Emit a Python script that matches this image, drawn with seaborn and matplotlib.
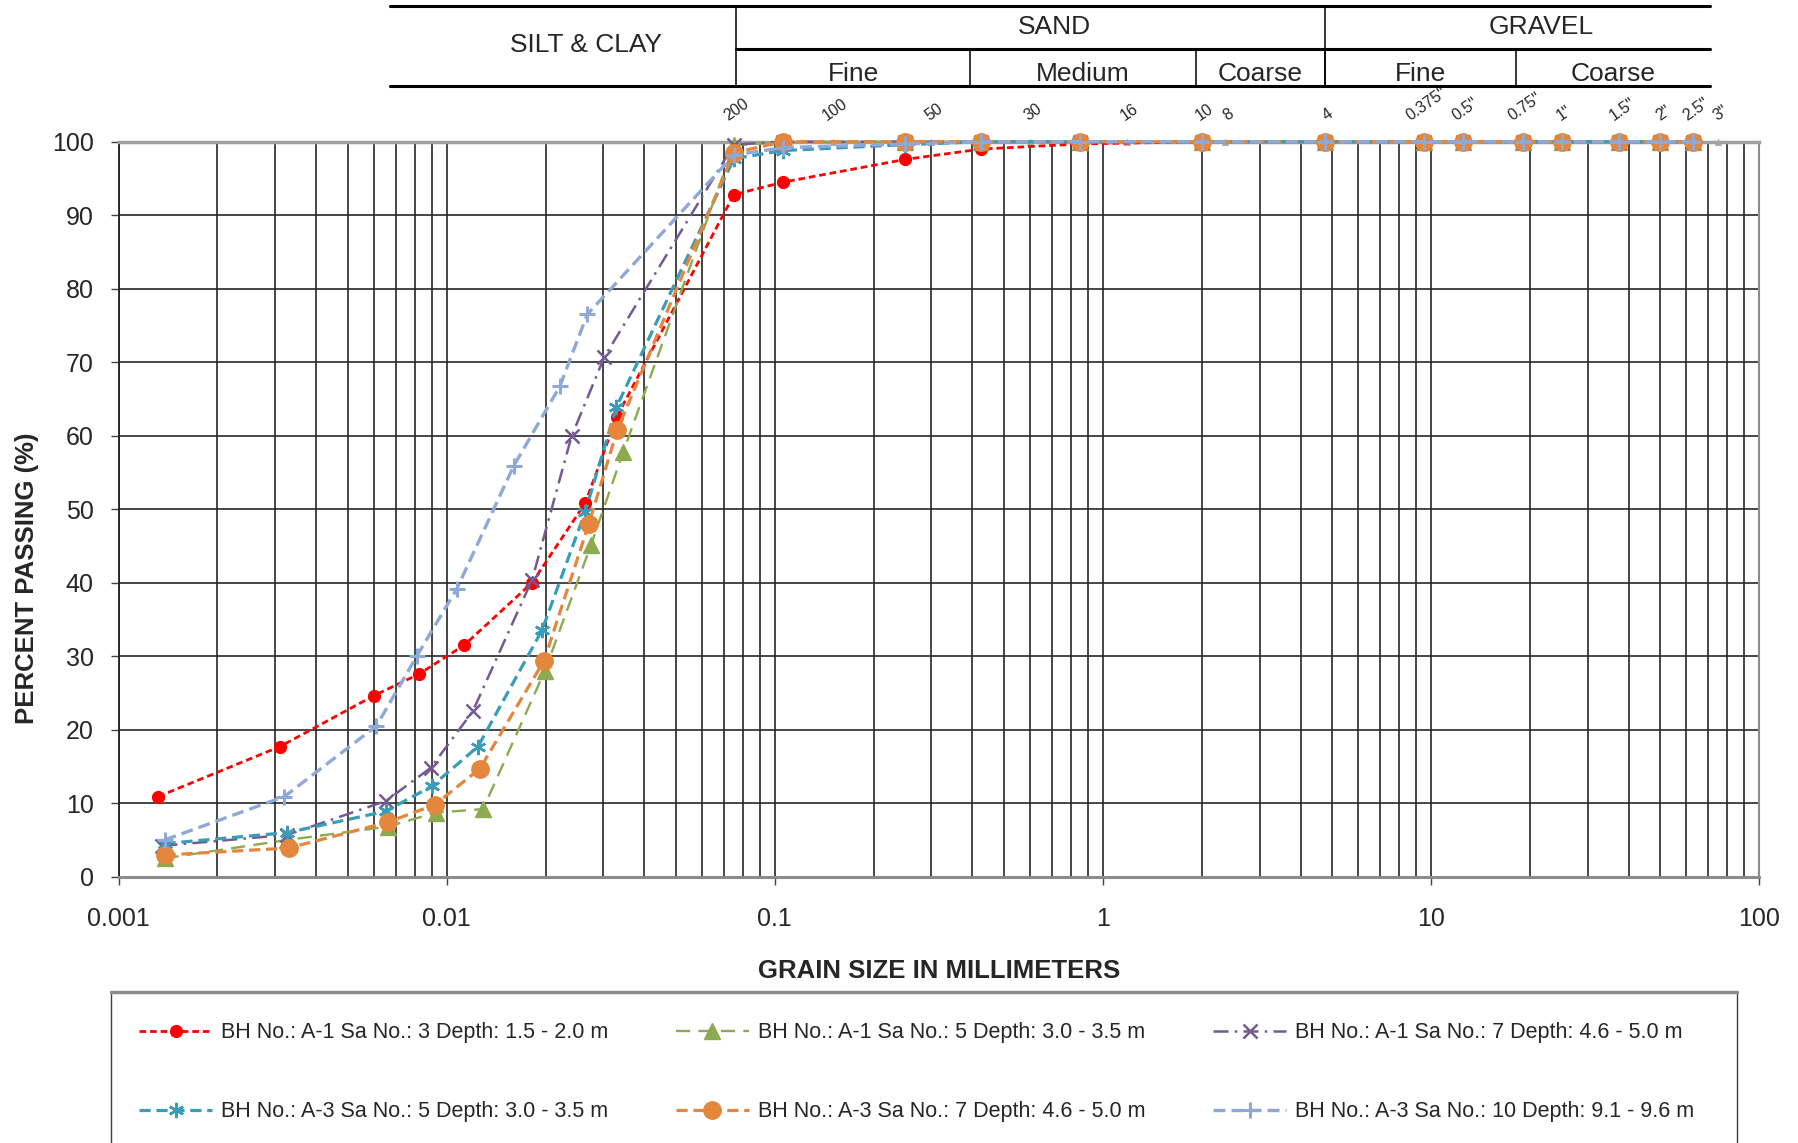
"""
Grain size distribution chart (sieve + hydrometer) for six samples.
"""

import matplotlib
matplotlib.use("Agg")
import matplotlib.pyplot as plt
import matplotlib.transforms as mtransforms
from matplotlib.lines import Line2D
from matplotlib.patches import Rectangle
from matplotlib.ticker import LogLocator, NullFormatter
import seaborn as sns


# ─── Data ─────────────────────────────────────────────────────────────────────

# sieve openings used in the tests (mm), shared by every sample
sieve_mm = [0.075, 0.106, 0.25, 0.425, 0.85, 2.0, 4.75, 9.5, 12.5, 19.0, 25.0, 37.5, 50.0, 63.0]

# BH A-1, Sa 3
a1_s3_hyd_mm = [0.00132, 0.00310, 0.00598, 0.00825, 0.0113, 0.0182, 0.0264, 0.0330]
a1_s3_hyd_pct = [10.9, 17.7, 24.6, 27.6, 31.5, 40.0, 50.8, 62.6]
a1_s3_sieve_pct = [92.8, 94.5, 97.6, 99.0, 99.7, 100, 100, 100, 100, 100, 100, 100, 100, 100]

# BH A-1, Sa 5
a1_s5_hyd_mm = [0.00138, 0.00327, 0.00660, 0.00924, 0.0129, 0.0199, 0.0275, 0.0345]
a1_s5_hyd_pct = [2.5, 5.0, 6.8, 8.7, 9.2, 28.0, 45.1, 57.8]
a1_s5_sieve_pct = [99.5, 100, 100, 100, 100, 100, 100, 100, 100, 100, 100, 100, 100, 100]

# BH A-1, Sa 7
a1_s7_hyd_mm = [0.00136, 0.00327, 0.00652, 0.00893, 0.0120, 0.0182, 0.0240, 0.0302]
a1_s7_hyd_pct = [4.2, 5.7, 10.3, 14.8, 22.5, 40.4, 59.9, 70.7]
a1_s7_sieve_pct = [99.6, 100, 100, 100, 100, 100, 100, 100, 100, 100, 100, 100, 100, 100]

# BH A-3, Sa 5
a3_s5_hyd_mm = [0.00138, 0.00327, 0.00652, 0.00899, 0.01245, 0.0195, 0.0264, 0.0329]
a3_s5_hyd_pct = [4.5, 6.0, 8.9, 12.3, 17.7, 33.5, 49.6, 63.9]
a3_s5_sieve_pct = [97.7, 98.8, 99.6, 100, 100, 100, 100, 100, 100, 100, 100, 100, 100, 100]

# BH A-3, Sa 7
a3_s7_hyd_mm = [0.00138, 0.00330, 0.00660, 0.00920, 0.01262, 0.0198, 0.0271, 0.0331]
a3_s7_hyd_pct = [2.95, 3.9, 7.4, 9.8, 14.7, 29.4, 48.0, 60.8]
a3_s7_sieve_pct = [98.5, 100, 100, 100, 100, 100, 100, 100, 100, 100, 100, 100, 100, 100]

# BH A-3, Sa 10
a3_s10_hyd_mm = [0.00138, 0.00320, 0.00610, 0.00810, 0.01074, 0.0160, 0.0221, 0.0268]
a3_s10_hyd_pct = [5.0, 10.9, 20.5, 30.0, 39.2, 55.9, 66.7, 76.5]
a3_s10_sieve_pct = [98.2, 99.2, 99.7, 100, 100, 100, 100, 100, 100, 100, 100, 100, 100, 100]

series_labels = [
    "BH No.: A-1 Sa No.: 3 Depth: 1.5 - 2.0 m",
    "BH No.: A-1 Sa No.: 5 Depth: 3.0 - 3.5 m",
    "BH No.: A-1 Sa No.: 7 Depth: 4.6 - 5.0 m",
    "BH No.: A-3 Sa No.: 5 Depth: 3.0 - 3.5 m",
    "BH No.: A-3 Sa No.: 7 Depth: 4.6 - 5.0 m",
    "BH No.: A-3 Sa No.: 10 Depth: 9.1 - 9.6 m",
]

# sieve designations written along the top of the chart
sieve_label_mm = [0.075, 0.15, 0.3, 0.6, 1.18, 2.0, 2.36, 4.75, 9.5, 12.5, 19.0, 25.0, 37.5, 50.0, 63.0, 75.0]
sieve_label_pct = [100, 100, 100, 100, 100, 100, 100, 100, 100, 100, 100, 100, 100, 100, 100, 100]
sieve_names = ["200", "100", "50", "30", "16", "10", "8", "4",
               '0.375"', '0.5"', '0.75"', '1"', '1.5"', '2"', '2.5"', '3"']

# soil classification header (cell edges as drawn, mm)
main_classes = ["SILT & CLAY", "SAND", "GRAVEL"]
main_edges_mm = [0.0067, 0.076, 4.75, 71.0]
sub_classes = ["Fine", "Medium", "Coarse", "Fine", "Coarse"]
sub_edges_mm = [0.076, 0.394, 1.92, 4.75, 18.2, 71.0]

x_ticks = [0.001, 0.01, 0.1, 1, 10, 100]
x_tick_labels = ["0.001", "0.01", "0.1", "1", "10", "100"]
y_ticks = [0, 10, 20, 30, 40, 50, 60, 70, 80, 90, 100]


# ─── Styles ───────────────────────────────────────────────────────────────────

STYLES = [
    dict(color="#FF0000", marker="o", markersize=8.5, linewidth=2.0,
         linestyle=(0, (2.4, 1.4)), markeredgewidth=1.0),
    dict(color="#8CAA4E", marker="^", markersize=11, linewidth=1.7,
         linestyle=(0, (6, 3.5)), markeredgewidth=1.0),
    dict(color="#735A92", marker="x", markersize=10, linewidth=1.8,
         linestyle=(0, (6, 2.5, 1, 2.5)), markeredgewidth=1.8),
    dict(color="#3A9CB6", marker=(6, 2, 0), markersize=11, linewidth=2.3,
         linestyle=(0, (3.5, 1.8)), markeredgewidth=1.8),
    dict(color="#E4873D", marker="o", markersize=12.5, linewidth=2.3,
         linestyle=(0, (3.5, 1.8)), markeredgewidth=1.0),
    dict(color="#8EA8D8", marker="+", markersize=11, linewidth=2.4,
         linestyle=(0, (3.6, 1.8)), markeredgewidth=2.2),
]


def main():
    sns.set_style("white")
    plt.rcParams["font.family"] = ["Liberation Sans", "DejaVu Sans"]

    fig = plt.figure(figsize=(17.98, 11.43), dpi=100)
    ax = fig.add_axes([0.0660, 0.2330, 0.9124, 0.6430])
    ax.set_xscale("log")

    all_x = [
        a1_s3_hyd_mm + sieve_mm,
        a1_s5_hyd_mm + sieve_mm,
        a1_s7_hyd_mm + sieve_mm,
        a3_s5_hyd_mm + sieve_mm,
        a3_s7_hyd_mm + sieve_mm,
        a3_s10_hyd_mm + sieve_mm,
    ]
    all_y = [
        a1_s3_hyd_pct + a1_s3_sieve_pct,
        a1_s5_hyd_pct + a1_s5_sieve_pct,
        a1_s7_hyd_pct + a1_s7_sieve_pct,
        a3_s5_hyd_pct + a3_s5_sieve_pct,
        a3_s7_hyd_pct + a3_s7_sieve_pct,
        a3_s10_hyd_pct + a3_s10_sieve_pct,
    ]

    # sieve designation markers along 100 %
    sns.scatterplot(x=sieve_label_mm, y=sieve_label_pct, marker="^", s=22,
                    color="#A6A6A6", edgecolor="#A6A6A6", ax=ax, zorder=3,
                    clip_on=False, legend=False)
    for mm, name in zip(sieve_label_mm, sieve_names):
        ax.annotate(name, (mm, 100), xytext=(2, 13), textcoords="offset points",
                    rotation=35, ha="center", va="bottom", fontsize=11.5,
                    annotation_clip=False)

    for i, (xs, ys, label) in enumerate(zip(all_x, all_y, series_labels)):
        st = STYLES[i]
        sns.lineplot(x=xs, y=ys, ax=ax, estimator=None, sort=False, legend=False,
                     label=label, color=st["color"], marker=st["marker"],
                     markersize=st["markersize"], linewidth=st["linewidth"],
                     linestyle=st["linestyle"], markeredgecolor=st["color"],
                     markerfacecolor=st["color"],
                     markeredgewidth=st["markeredgewidth"],
                     zorder=4 + i, clip_on=False)

    # ── axes ──
    ax.set_xlim(0.001, 100)
    ax.set_ylim(0, 100)
    ax.set_xticks(x_ticks)
    ax.set_xticklabels(x_tick_labels)
    ax.xaxis.set_minor_locator(LogLocator(base=10, subs=(2, 3, 4, 5, 6, 7, 8, 9)))
    ax.xaxis.set_minor_formatter(NullFormatter())
    ax.set_yticks(y_ticks)
    ax.tick_params(axis="x", which="major", direction="out", length=6, width=1,
                   color="#404040", labelsize=18, pad=16, bottom=True)
    ax.tick_params(axis="x", which="minor", length=0)
    ax.tick_params(axis="y", direction="out", length=6, width=1,
                   color="#404040", labelsize=18, pad=12, left=True)

    ax.set_axisbelow(True)
    ax.grid(True, which="both", axis="x", color="#262626", linewidth=1.2)
    ax.grid(True, which="major", axis="y", color="#262626", linewidth=1.2)

    ax.spines["left"].set_color("#202020")
    ax.spines["left"].set_linewidth(1.3)
    ax.spines["bottom"].set_color("#8c8c8c")
    ax.spines["bottom"].set_linewidth(2.2)
    ax.spines["top"].set_color("#a0a0a0")
    ax.spines["top"].set_linewidth(2.5)
    ax.spines["right"].set_color("#8c8c8c")
    ax.spines["right"].set_linewidth(1.5)

    ax.set_xlabel("GRAIN SIZE IN MILLIMETERS", fontsize=18.5, fontweight="bold",
                  va="center")
    ax.xaxis.set_label_coords(0.5, -0.128)
    ax.set_ylabel("PERCENT PASSING (%)", fontsize=18.5, fontweight="bold",
                  va="center")
    ax.yaxis.set_label_coords(-0.0556, 0.406)

    # ── classification header (x in mm, y in figure fraction) ──
    hdr = mtransforms.blended_transform_factory(ax.transData, fig.transFigure)
    y_top, y_mid, y_bot = 0.9950, 0.9569, 0.9248
    line_kw = dict(color="black", transform=hdr, clip_on=False)
    fig.add_artist(Line2D([main_edges_mm[0], main_edges_mm[-1]], [y_top, y_top], lw=2.2, **line_kw))
    fig.add_artist(Line2D([sub_edges_mm[0], sub_edges_mm[-1]], [y_mid, y_mid], lw=2.2, **line_kw))
    fig.add_artist(Line2D([main_edges_mm[0], main_edges_mm[-1]], [y_bot, y_bot], lw=2.2, **line_kw))
    for edge in main_edges_mm[1:-1]:
        fig.add_artist(Line2D([edge, edge], [y_top, y_bot], lw=1.1, **line_kw))
    for edge in sub_edges_mm[1:-1]:
        fig.add_artist(Line2D([edge, edge], [y_mid, y_bot], lw=1.1, **line_kw))

    main_tr = mtransforms.offset_copy(hdr, fig=fig, x=17, y=0, units="points")
    main_y = [0.9605, 0.9760, 0.9760]
    for k, name in enumerate(main_classes):
        xc = (main_edges_mm[k] * main_edges_mm[k + 1]) ** 0.5
        fig.text(xc, main_y[k], name, transform=main_tr, ha="center",
                 va="center", fontsize=19)
    for k, name in enumerate(sub_classes):
        xc = (sub_edges_mm[k] * sub_edges_mm[k + 1]) ** 0.5
        fig.text(xc, 0.9355, name, transform=hdr, ha="center", va="center",
                 fontsize=19)

    # ── legend box below the chart ──
    fig.add_artist(Rectangle((0.0617, -0.05), 0.9043, 0.1821,
                             transform=fig.transFigure, fill=False,
                             edgecolor="#404040", linewidth=1.0))
    fig.add_artist(Line2D([0.0617, 0.9660], [0.1321, 0.1321],
                          transform=fig.transFigure, color="#8c8c8c", lw=2.5))

    handles, labels = ax.get_legend_handles_labels()
    order = [0, 3, 1, 4, 2, 5]
    fig.legend([handles[i] for i in order], [labels[i] for i in order],
               loc="upper left", bbox_to_anchor=(0.0773, 0.1055),
               bbox_transform=fig.transFigure, ncol=3, frameon=False,
               fontsize=15.5, handlelength=3.4, handletextpad=0.4,
               columnspacing=3.15, labelspacing=2.68, borderpad=0,
               borderaxespad=0)

    fig.savefig("out.png", dpi=100)
    plt.close(fig)


if __name__ == "__main__":
    main()
